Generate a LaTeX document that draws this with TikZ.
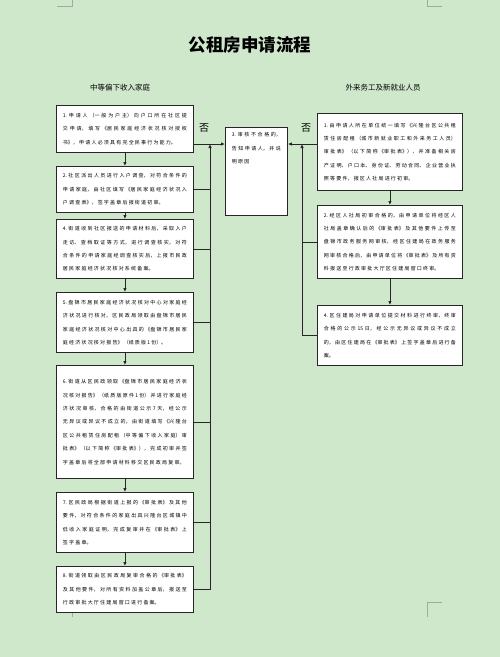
\documentclass[tikz,border=0pt]{standalone}
\usepackage{fontspec}
\setmainfont{Noto Sans CJK SC}
\usetikzlibrary{arrows.meta,shadows}
\XeTeXlinebreaklocale "zh"
\XeTeXlinebreakskip=1.2pt plus 1pt
\definecolor{bg}{RGB}{207,232,204}

\begin{document}
\begin{tikzpicture}[x=1pt,y=-1pt,
        box/.style={draw=black!85, line width=0.9pt, fill=white, anchor=north west,
            inner xsep=6.5pt, inner ysep=2pt, align=justify,
            font=\fontsize{5}{13.4}\selectfont,
            drop shadow={shadow xshift=0.8pt, shadow yshift=-0.8pt, fill=black!60, opacity=0.8}},
        lbox/.style={box, text width=124pt},
        rbox/.style={box, text width=132pt},
        line/.style={draw=black!85, line width=0.9pt},
        arr/.style={line, -{Latex[length=4pt,width=3.5pt]}},
        cropmark/.style={draw=black!35, line width=0.6pt}]

        \fill[bg] (0,0) rectangle (500,657);
        \useasboundingbox (0,0) rectangle (500,657);

        % crop marks
        \draw[cropmark] (57,6) -- (72,6) -- (72,0);
        \draw[cropmark] (427,0) -- (427,6) -- (442,6);
        \draw[cropmark] (57,602) -- (72,602) -- (72,617);
        \draw[cropmark] (442,602) -- (427,602) -- (427,617);

        \node (title) at (250,45) {\fontsize{17.5}{20}\selectfont\bfseries 公租房申请流程};
        \node (lhead) at (120,88) {\fontsize{7.5}{9}\selectfont 中等偏下收入家庭};
        \node (rhead) at (383,88) {\fontsize{7.5}{9}\selectfont 外来务工及新就业人员};

        % left column
        \node[lbox, minimum height=47pt] (L1) at (56,105) {1.申请人（一般为户主）向户口所在社区提交申请，填写《居民家庭经济状况核对授权书》，申请人必须具有完全民事行为能力。};
        \node[lbox, minimum height=46pt] (L2) at (56,166) {2.社区派出人员进行入户调查，对符合条件的申请家庭，由社区填写《居民家庭经济状况入户调查表》，签字盖章后报街道初审。};
        \node[lbox, minimum height=59pt] (L4) at (56,219) {4.街道收到社区报送的申请材料后，采取入户走访、查档取证等方式，进行调查核实，对符合条件的申请家庭经调查核实后，上报市民政居民家庭经济状况核对系统备案。};
        \node[lbox, minimum height=60pt] (L5) at (56,292) {5.盘锦市居民家庭经济状况核对中心对家庭经济状况进行核对，区民政局领取由盘锦市居民家庭经济状况核对中心出具的《盘锦市居民家庭经济状况核对报告》（纸质版1份）。};
        \node[lbox, minimum height=113pt] (L6) at (56,365) {6.街道从区民政领取《盘锦市居民家庭经济状况核对报告》（纸质版原件1份）并进行家庭经济状况审核，合格的由街道公示7天，经公示无异议或异议不成立的，由街道填写《兴隆台区公共租赁住房配租（中等偏下收入家庭）审批表》（以下简称《审批表》），完成初审并签字盖章后将全部申请材料移交区民政局复审。};
        \node[lbox, minimum height=60pt] (L7) at (56,492) {7.区民政局根据街道上报的《审批表》及其他要件，对符合条件的家庭出具兴隆台区城镇中低收入家庭证明，完成复审并在《审批表》上签字盖章。};
        \node[lbox, minimum height=46pt] (L8) at (56,566) {8.街道领取由区民政局复审合格的《审批表》及其他要件，对所有资料加盖公章后，报送至行政审批大厅住建局窗口进行备案。};

        % middle
        \node[box, inner ysep=5pt] (M3) at (225,127) {\parbox[t][78pt][t]{49pt}{3.审核不合格的，告知申请人，并说明原因}};

        % right column
        \node[rbox, minimum height=77pt] (R1) at (317,113) {1.由申请人所在单位统一填写《兴隆台区公共租赁住房配租（城市新就业职工和外来务工人员）审批表》（以下简称《审批表》），并准备相关房产证明、户口本、身份证、劳动合同、企业营业执照等要件，报区人社局进行初审。};
        \node[rbox, minimum height=73pt] (R2) at (317,205) {2.经区人社局初审合格的，由申请单位将经区人社局盖章确认后的《审批表》及其他要件上传至盘锦市政务服务网审核，经区住建局在政务服务网审核合格后，由申请单位将《审批表》及所有资料报送至行政审批大厅区住建局窗口终审。};
        \node[rbox, minimum height=60pt] (R4) at (317,305) {4.区住建局对申请单位提交材料进行终审，终审合格的公示15日，经公示无异议或异议不成立的，由区住建局在《审批表》上签字盖章后进行备案。};

        \node (nol) at (204,128) {\fontsize{10}{12}\selectfont 否};
        \node (nor) at (306,128) {\fontsize{10}{12}\selectfont 否};

        \coordinate (jl) at (210,144);
        \coordinate (jr) at (302,144);

        \draw[arr] (L1) -- (L2);
        \draw[arr] (L2) -- (L4);
        \draw[arr] (L4) -- (L5);
        \draw[arr] (L5) -- (L6);
        \draw[arr] (L6) -- (L7);
        \draw[arr] (L7) -- (L8);
        \draw[arr] (R1) -- (R2);
        \draw[arr] (R2) -- (R4);

        % back to step 3
        \draw[line] (L1.east |- jl) -- (jl);
        \draw[arr] (jl) -- (jl -| M3.west);
        \draw[arr] (L8.east) -| (jl);
        \foreach \n in {L2,L4,L5,L6,L7}
            \draw[line] (\n.east) -- (\n.east -| jl);

        \draw[line] (R1.west |- jr) -- (jr);
        \draw[arr] (jr) -- (jr -| M3.east);
        \draw[arr] (R4.west) -| (jr);
        \draw[line] (R2.west) -- (R2.west -| jr);

    \end{tikzpicture}
\end{document}
